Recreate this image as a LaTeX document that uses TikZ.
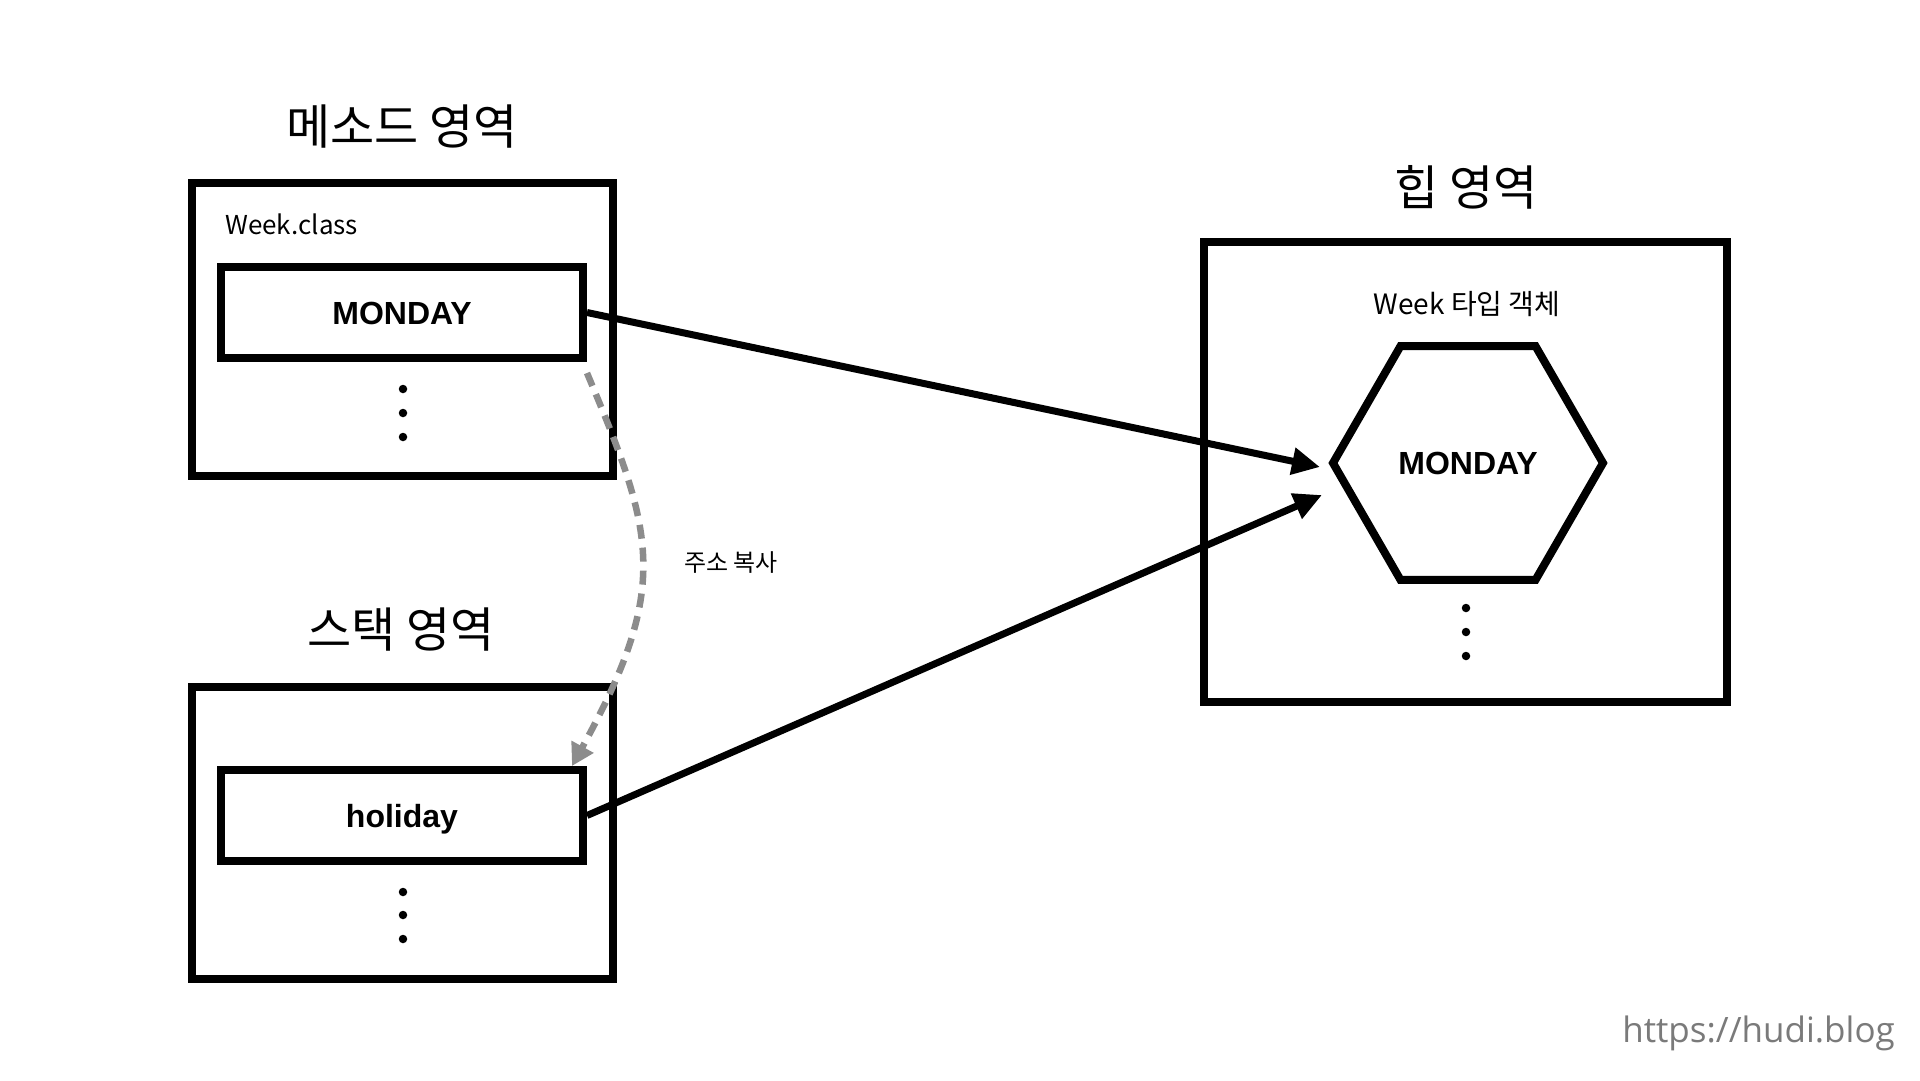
\documentclass[tikz,border=0pt]{standalone}
\usepackage{fontspec}
\setmainfont{Noto Sans CJK KR}
\newfontfamily\helv{Liberation Sans}
\newfontfamily\wmfont{Open Sans}
\usetikzlibrary{arrows.meta,calc}
\definecolor{dashgray}{HTML}{8C8C8C}
\definecolor{wmgray}{HTML}{7A7A7A}
\begin{document}
\begin{tikzpicture}[x=1pt,y=-1pt,
  area/.style={draw, line width=8pt, inner sep=0pt},
  slot/.style={draw, line width=8pt, minimum width=362pt, minimum height=91pt, inner sep=0pt,
    text height=23pt, text depth=0pt,
    font=\helv\bfseries\fontsize{32}{36}\selectfont},
  areatitle/.style={font=\fontsize{48}{56}\selectfont, inner sep=0pt},
  smalltext/.style={font=\fontsize{26}{30}\selectfont, inner sep=0pt},
  refarrow/.style={line width=7pt, -{Triangle[length=28pt,width=26pt]}},
  copyarrow/.style={dashgray, line width=6.5pt, dash pattern=on 14pt off 9pt,
    -{Triangle[length=22pt,width=24pt]}},
  dotmark/.style={circle, fill=black, inner sep=0pt, minimum size=8.5pt},
  hexline/.style={line width=8pt, line join=miter}
]
\useasboundingbox[fill=white] (0,0) rectangle (1920,1080);

% Method area
\node[areatitle] (t1) at (402,127) {메소드 영역};
\node[area, minimum width=421pt, minimum height=293pt] (meth) at (402.5,329.5) {};
\node[smalltext, anchor=base west] (wc) at (225,234) {Week.class};
\node[slot] (mon) at (402,312.5) {MONDAY};
\node[dotmark] (md1) at (403,389) {};
\node[dotmark] (md2) at (403,413) {};
\node[dotmark] (md3) at (403,437) {};

% Stack area
\node[areatitle] (t2) at (401,630) {스택 영역};
\node[area, minimum width=421pt, minimum height=292pt] (stk) at (402.5,833) {};
\node[slot] (hol) at (402,815.5) {holiday};
\node[dotmark] (sd1) at (403,892) {};
\node[dotmark] (sd2) at (403,915) {};
\node[dotmark] (sd3) at (403,939) {};

% Heap area
\node[areatitle] (t3) at (1466,187) {힙 영역};
\node[area, minimum width=523pt, minimum height=460pt] (heap) at (1465.5,472) {};
\node[font=\fontsize{28}{32}\selectfont, inner sep=0pt] (wt) at (1467,304) {Week 타입 객체};
\coordinate (hc) at (1468,463);
\draw[hexline] ($(hc)+(-135,0)$) coordinate (hexW) -- ($(hc)+(-67.5,-116.9)$) -- ($(hc)+(67.5,-116.9)$)
  -- ($(hc)+(135,0)$) -- ($(hc)+(67.5,116.9)$) -- ($(hc)+(-67.5,116.9)$) -- cycle;
\node[font=\helv\bfseries\fontsize{32}{36}\selectfont, inner sep=0pt] (hexl) at (hc) {MONDAY};
\node[dotmark] (hd1) at (1466,608) {};
\node[dotmark] (hd2) at (1466,632) {};
\node[dotmark] (hd3) at (1466,656) {};

% Connectors
\coordinate (tip1) at ($(hexW)+(-13,4)$);
\coordinate (tip2) at ($(hexW)+(-11,32)$);
\draw[refarrow] (mon.east) -- (tip1);
\draw[refarrow] (hol.east) -- (tip2);

\coordinate (cstart) at ($(mon.south east)+(0,11)$);
\coordinate (cend) at ($(hol.north east)+(-15,0)$);
\draw[copyarrow] (cstart) .. controls (654.7,533.9) and (671,586) .. (cend);
\node[font=\fontsize{24}{28}\selectfont, inner sep=0pt] (cp) at (731,563) {주소 복사};

% Watermark
\node[font=\wmfont\fontsize{35}{40}\selectfont, text=wmgray, anchor=base east, inner sep=0pt] (wm) at (1895,1042) {https://hudi.blog};
\end{tikzpicture}
\end{document}
